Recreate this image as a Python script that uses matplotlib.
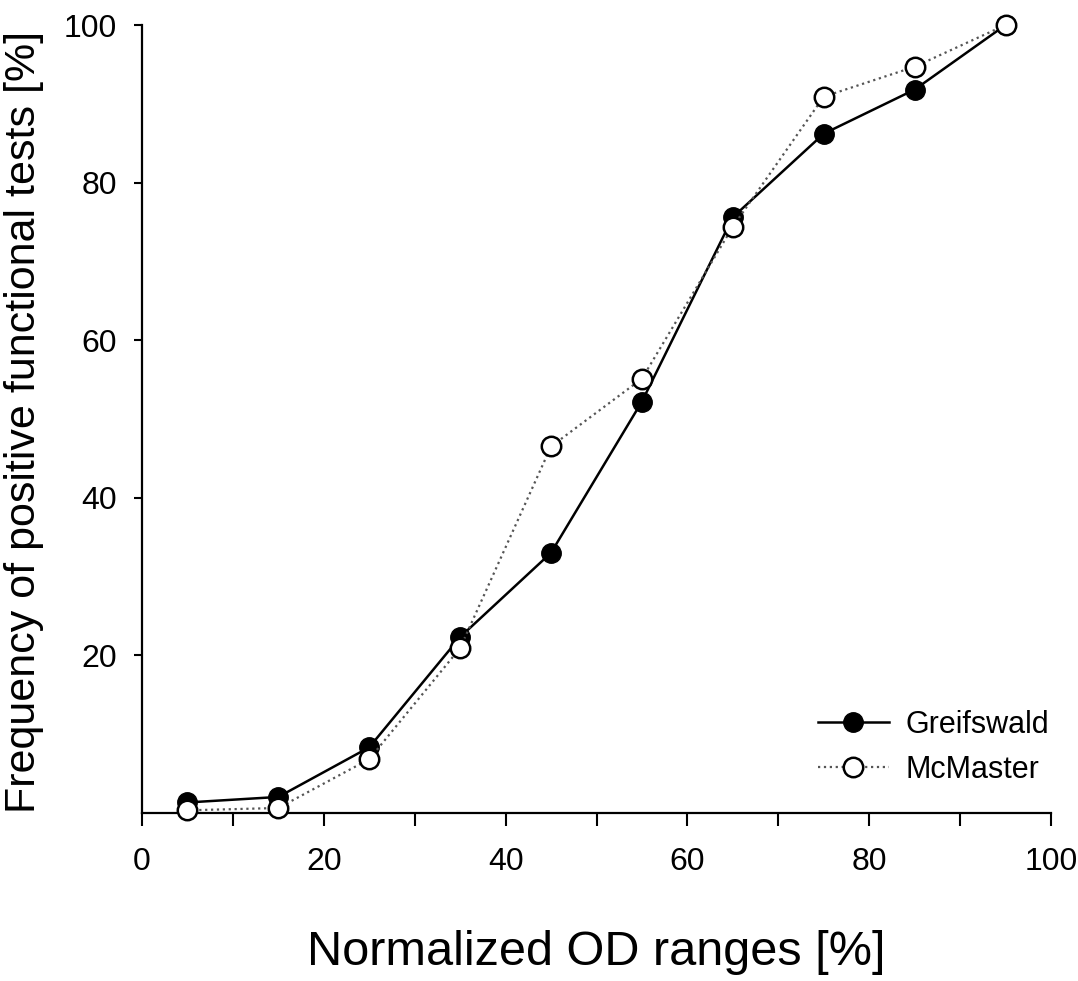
import matplotlib
matplotlib.use("Agg")
import matplotlib.pyplot as plt

od_ranges = [5, 15, 25, 35, 45, 55, 65, 75, 85, 95]
greifswald = [1.3, 2.0, 8.3, 22.3, 33.0, 52.2, 75.6, 86.2, 91.8, 100.0]
mcmaster = [0.3, 0.6, 6.8, 20.9, 46.5, 55.1, 74.4, 90.9, 94.7, 100.0]
x_ticks = [0, 20, 40, 60, 80, 100]
y_ticks = [20, 40, 60, 80, 100]

plt.rcParams['font.family'] = ['Liberation Sans', 'DejaVu Sans']

fig = plt.figure(figsize=(10.78, 9.81), dpi=100)
ax = fig.add_axes([142/1078, (981-812.7)/981, (1051-142)/1078, (812.7-25)/981])

ax.plot(od_ranges, greifswald, '-', color='black', lw=1.8, marker='o', ms=14,
        mfc='black', mec='black', clip_on=False, zorder=3, label='Greifswald')
ax.plot(od_ranges, mcmaster, ':', color='#555555', lw=1.6, marker='o', ms=14,
        mfc='white', mec='black', mew=1.8, clip_on=False, zorder=4, label='McMaster')

ax.set_xlim(0, 100)
ax.set_ylim(0, 100)
ax.set_xticks(x_ticks)
ax.set_xticks([10, 30, 50, 70, 90], minor=True)
ax.set_yticks(y_ticks)
for s in ['top', 'right']:
    ax.spines[s].set_visible(False)
for s in ['left', 'bottom']:
    ax.spines[s].set_linewidth(1.6)
ax.tick_params(axis='x', which='both', direction='out', length=9, width=1.5, pad=16, labelsize=23)
ax.tick_params(axis='y', which='both', direction='out', length=6, width=1.5, pad=12, labelsize=23)

ax.set_xlabel('Normalized OD ranges [%]', fontsize=35, labelpad=38)
ax.set_ylabel('Frequency of positive functional tests [%]', fontsize=31)
ax.yaxis.set_label_coords(-0.108, 0.496)

leg = ax.legend(loc='upper left', bbox_to_anchor=(0.744, 0.131), frameon=False,
                fontsize=22, handlelength=2.3, handletextpad=0.55, labelspacing=0.5,
                borderpad=0, borderaxespad=0)

fig.savefig('out.png', dpi=100)
